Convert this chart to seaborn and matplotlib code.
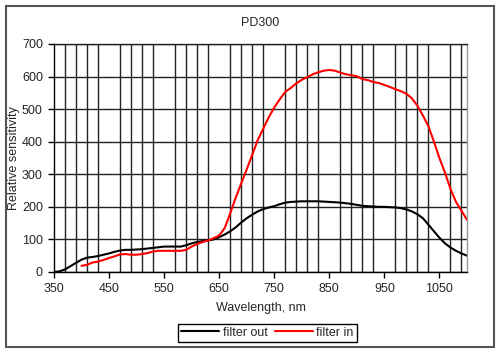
import matplotlib
matplotlib.use("Agg")
import matplotlib.pyplot as plt
import matplotlib.patches as patches
import seaborn as sns
import pandas as pd
import numpy as np

# wavelength grid (nm)
wavelength = list(range(350, 1101, 10))

filter_out = [0, 2, 8, 18, 28, 38, 44, 46, 49, 53,
              57, 62, 66, 68, 68, 69, 70, 72, 74, 76,
              78, 78, 78, 78, 82, 88, 92, 95, 97, 100,
              107, 115, 125, 137, 152, 165, 176, 186, 193, 198,
              202, 208, 213, 215, 216, 217, 217, 217, 217, 216,
              215, 214, 213, 211, 209, 206, 203, 202, 201, 200,
              200, 199, 198, 196, 192, 186, 177, 165, 145, 125,
              105, 88, 75, 65, 57, 50]

filter_in = [None, None, None, None, None,
             19, 22, 29, 32, 37,
             43, 48, 54, 55, 53, 53, 55, 58, 63, 65,
             65, 65, 65, 65, 68, 78, 86, 92, 97, 104,
             112, 135, 180, 228, 272, 315, 360, 405, 440, 475,
             505, 530, 553, 565, 579, 590, 598, 607, 613, 618,
             620, 618, 612, 607, 604, 601, 592, 589, 583, 580,
             574, 568, 561, 555, 547, 533, 510, 480, 447, 400,
             349, 305, 255, 215, 188, 160]

series_names = ["filter out", "filter in"]
series_colors = ["black", "red"]

df = pd.DataFrame({
    "Wavelength": wavelength * 2,
    "Value": filter_out + filter_in,
    "Series": [series_names[0]] * len(wavelength) + [series_names[1]] * len(wavelength),
}).dropna()

sns.set_style("white")
plt.rcParams["font.family"] = ["Liberation Sans", "DejaVu Sans"]

fig = plt.figure(figsize=(5, 3.53), dpi=100)
ax = fig.add_axes([0.108, 0.2295, 0.826, 0.646])

sns.lineplot(data=df, x="Wavelength", y="Value", hue="Series",
             palette=dict(zip(series_names, series_colors)),
             linewidth=1.5, ax=ax, legend=False)

ax.set_xlim(350, 1100)
ax.set_ylim(0, 700)
ax.set_xticks(np.arange(350, 1051, 100))
ax.set_xticks(np.arange(350, 1100, 20), minor=True)
ax.set_yticks(np.arange(0, 701, 100))
ax.tick_params(axis="both", which="major", labelsize=9, length=4, width=1,
               color="black", direction="out", pad=4)
ax.tick_params(axis="x", which="minor", length=0)
ax.tick_params(axis="x", which="major", bottom=True)
ax.tick_params(axis="y", which="major", left=True)

ax.grid(True, axis="x", which="minor", color="#222222", linewidth=1)
ax.grid(True, axis="y", which="major", color="#222222", linewidth=1)
ax.set_axisbelow(True)

for s in ["left", "bottom"]:
    ax.spines[s].set_color("black")
    ax.spines[s].set_linewidth(1)
ax.spines["top"].set_color("#222222")
ax.spines["top"].set_linewidth(1)
ax.spines["right"].set_color("#999999")
ax.spines["right"].set_linewidth(1)

ax.set_title("PD300", fontsize=9, pad=13)
ax.set_xlabel("Wavelength, nm", fontsize=9, labelpad=5)
ax.set_ylabel("Relative sensitivity", fontsize=9, labelpad=1)

handles = [plt.Line2D([], [], color=c, linewidth=1.5) for c in series_colors]
leg = fig.legend(handles, series_names, loc="lower center", ncol=2,
                 bbox_to_anchor=(0.535, 0.014), frameon=True, fancybox=False,
                 edgecolor="black", framealpha=1, fontsize=9,
                 handlelength=3.0, handletextpad=0.3, columnspacing=0.6,
                 borderpad=0.25)
leg.get_frame().set_linewidth(1)

fig.patches.append(patches.Rectangle((0.011, 0.018), 0.976, 0.966,
                                     transform=fig.transFigure, fill=False,
                                     edgecolor="#555555", linewidth=1.5))

fig.savefig("out.png", dpi=100)
